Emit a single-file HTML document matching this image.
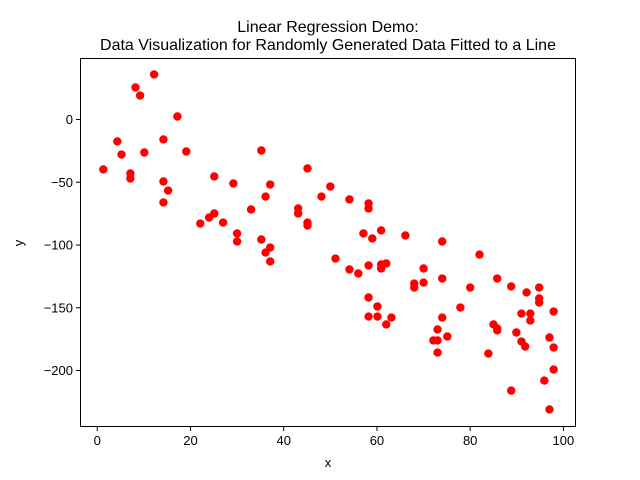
<!DOCTYPE html>
<html><head><meta charset="utf-8"><style>
body{margin:0;background:#fff;}
svg{display:block;font-family:"Liberation Sans","DejaVu Sans",sans-serif;}
</style></head><body>
<svg id="chart" width="640" height="480">
<text x="328" y="32" font-size="16" text-anchor="middle">Linear Regression Demo:</text>
<text x="328" y="50" font-size="16" text-anchor="middle">Data Visualization for Randomly Generated Data Fitted to a Line</text>
<text x="328" y="467" font-size="13" text-anchor="middle">x</text>
<text x="23" y="243" font-size="13" text-anchor="middle" transform="rotate(-90 23 243)">y</text>
<g id="marks"></g>
<g id="axes"></g>
</svg>
<script>
const xs=[1.3,4.3,5.2,7.1,7.1,8.2,9.2,10.1,12.2,14.2,14.2,14.2,15.2,17.2,19.1,22.1,24.0,25.1,25.1,27.0,29.2,30.0,30.0,35.2,35.2,36.1,36.1,37.1,37.1,37.1,33.0,43.1,43.1,45.1,45.1,45.1,48.1,50.0,51.1,54.1,54.1,56.0,57.1,58.2,58.2,58.2,58.2,58.2,59.0,60.1,60.1,60.9,60.9,60.9,62.0,62.0,63.1,66.1,68.0,68.0,70.0,70.0,72.1,73.0,73.0,73.0,74.0,74.0,74.0,75.1,77.9,80.0,82.0,83.9,85.0,85.8,85.8,85.8,88.8,88.8,89.9,91.0,91.0,91.8,92.1,92.9,92.9,94.8,94.8,94.8,95.9,97.0,97.0,97.9,97.9,97.9];
const ys=[-39.8,-17.5,-27.9,-43,-47,25.5,19.1,-26.3,35.9,-15.9,-49.4,-66.1,-56.6,2.4,-25.5,-82.9,-78.1,-74.9,-45.4,-82.1,-51,-90.8,-97.2,-24.7,-95.6,-106,-61.4,-51.8,-102,-113.1,-71.7,-70.9,-74.9,-39,-82.1,-84.5,-61.4,-53.4,-110.8,-63.7,-119.5,-122.7,-90.8,-66.9,-70.9,-116.3,-141.8,-157,-94.8,-149,-157,-88.4,-115.5,-118.7,-114.7,-163.3,-157.8,-92.4,-130.7,-133.9,-118.7,-129.9,-176,-167.3,-176,-185.7,-97.2,-126.7,-157.8,-172.9,-149.8,-133.9,-107.6,-186.5,-163.3,-166.5,-126.7,-168,-216,-133,-169.7,-176.9,-154.6,-180.9,-137.8,-160.2,-154.6,-133.9,-142.6,-145.8,-208,-173.7,-231,-153,-181.7,-199.2];
const xTicks=[0,20,40,60,80,100];
const yTicks=[0,-50,-100,-150,-200];
const L=80,R=576,T=58,B=427;
const xMin=-3.7,xMax=102.7,yMin=-245,yMax=49;
const sx=v=>L+(v-xMin)/(xMax-xMin)*(R-L);
const sy=v=>B-(v-yMin)/(yMax-yMin)*(B-T);
const NS="http://www.w3.org/2000/svg";
const marks=document.getElementById('marks'),axes=document.getElementById('axes');
function mk(tag,attrs,parent){const e=document.createElementNS(NS,tag);for(const k in attrs)e.setAttribute(k,attrs[k]);parent.appendChild(e);return e;}
xs.forEach((x,i)=>{const c=mk('circle',{cx:sx(x),cy:sy(ys[i]),r:4.2,fill:'#ff0000'},marks);

});
const fr=mk('rect',{x:L+0.5,y:T+0.5,width:R-L-1,height:B-T-1,fill:'none',stroke:'#000','stroke-width':1},axes);


xTicks.forEach(t=>{const x=sx(t);
mk('line',{x1:x,x2:x,y1:B,y2:B+4,stroke:'#000'},axes);
const tx=mk('text',{x:x,y:B+18,'font-size':13,'text-anchor':'middle'},axes);tx.textContent=t;

});
yTicks.forEach(t=>{const y=sy(t);
mk('line',{x1:L-4,x2:L,y1:y,y2:y,stroke:'#000'},axes);
const tx=mk('text',{x:L-7,y:y+4.5,'font-size':13,'text-anchor':'end'},axes);tx.textContent=t<0?'\u2212'+(-t):t;

});
</script>
</body></html>
